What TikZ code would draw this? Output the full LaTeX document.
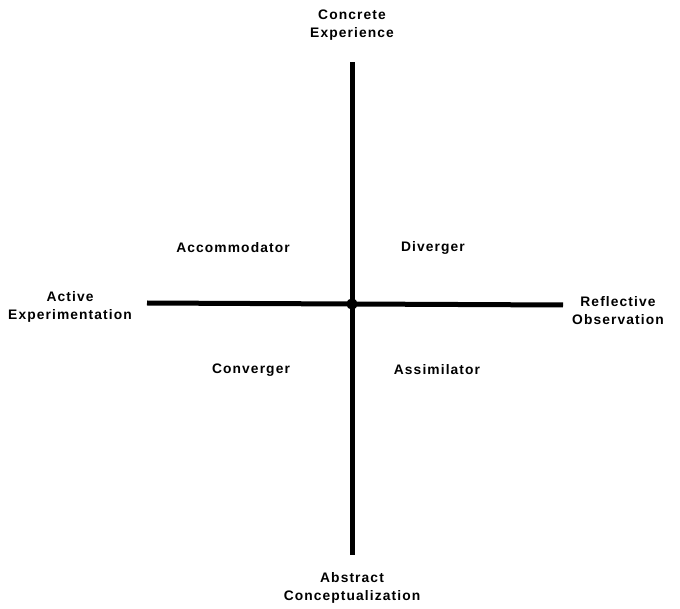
\documentclass[tikz,border=0pt]{standalone}
\usepackage{fontspec}
\setmainfont{Liberation Sans}[LetterSpace=8]
\usetikzlibrary{positioning}
\tikzset{
  axislabel/.style={align=center, font=\bfseries\fontsize{13.8}{18}\selectfont},
  quadlabel/.style={font=\bfseries\fontsize{13.8}{18}\selectfont},
  axis/.style={line width=5pt}
}
\begin{document}
\begin{tikzpicture}[x=1pt,y=-1pt]
            \useasboundingbox (0,0) rectangle (680,609);
            % centre and ends of the two axes
            \node (O) at (352,304) [circle,fill,inner sep=4pt]{};
            \coordinate (top) at (352,62);
            \coordinate (bot) at (352,555);
            \coordinate (lft) at (147,303);
            \coordinate (rgt) at (563,305);
            
            % axes
            \draw[axis] (O.center) -- (top);
            \draw[axis] (O.center) -- (bot);
            \draw[axis] (O.center) -- (lft);
            \draw[axis] (O.center) -- (rgt);
            
            % labels at the ends
            \node[axislabel] (CE) at (352,25) {Concrete\\Experience};
            \node[axislabel] (AC) at (352,588) {Abstract\\Conceptualization};
            \node[axislabel] (AE) at (70,307) {Active\\Experimentation};
            \node[axislabel] (RO) at (618,311) {Reflective\\Observation};
            
            % labels in the quadrants
            \node[quadlabel] (acc) at (233,248) {Accommodator};
            \node[quadlabel] (div) at (433,248) {Diverger};
            \node[quadlabel] (con) at (251,370) {Converger};
            \node[quadlabel] (ass) at (437,370) {Assimilator};
\end{tikzpicture}
\end{document}
